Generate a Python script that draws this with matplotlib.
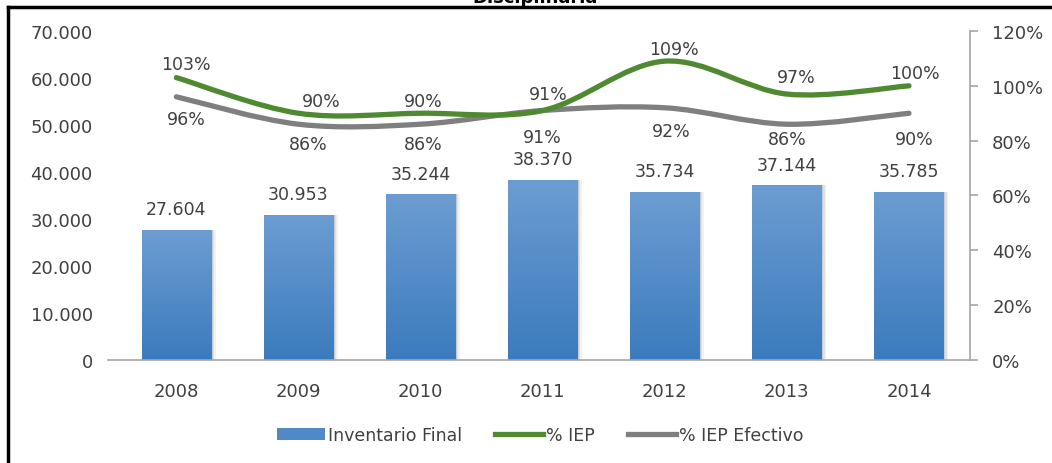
import numpy as np
import matplotlib
matplotlib.use("Agg")
import matplotlib.pyplot as plt
from matplotlib.path import Path
from matplotlib.patches import PathPatch, Patch
from matplotlib.lines import Line2D
from matplotlib.colors import LinearSegmentedColormap
from matplotlib.ticker import FuncFormatter, MultipleLocator

# Inventario final y porcentaje IEP por año
years = ["2008", "2009", "2010", "2011", "2012", "2013", "2014"]
inventario = [27604, 30953, 35244, 38370, 35734, 37144, 35785]
iep = [103, 90, 90, 91, 109, 97, 100]
iep_efectivo = [96, 86, 86, 91, 92, 86, 90]

TEXT = "#404040"
GREEN = "#4f8a33"
GREY = "#7f7f7f"
AXIS = "#a6a6a6"

plt.rcParams["font.family"] = ["DejaVu Sans"]


def miles(v, _=None):
    return f"{v:,.0f}".replace(",", ".")


def smooth_path(xs, ys):
    # Bezier a trozos que pasa por cada punto (suavizado tipo Excel)
    pts = np.column_stack([xs, ys]).astype(float)
    n = len(pts)
    verts = [pts[0]]
    codes = [Path.MOVETO]
    for i in range(n - 1):
        p0 = pts[i - 1] if i > 0 else pts[i]
        p3 = pts[i + 2] if i + 2 < n else pts[i + 1]
        verts += [pts[i] + (pts[i + 1] - p0) / 6,
                  pts[i + 1] - (p3 - pts[i]) / 6,
                  pts[i + 1]]
        codes += [Path.CURVE4] * 3
    return Path(verts, codes)


fig = plt.figure(figsize=(10.52, 4.64), dpi=100)
W, H = 1052, 464
ax = fig.add_axes([108 / W, (H - 361) / H, (970 - 108) / W, (361 - 32) / H])
ax2 = ax.twinx()

x = np.arange(len(years))

# barras con degradado y sombra suave
for k, a in enumerate([0.05, 0.07, 0.09]):
    off = (3 - k) * 0.012
    ax.bar(x + off, inventario, width=0.57, color="#000000", alpha=a,
           linewidth=0, zorder=1)
bars = ax.bar(x, inventario, width=0.57, color="none", linewidth=0, zorder=2)
cmap = LinearSegmentedColormap.from_list("azul", ["#3b7bbd", "#6c9dd2"])
grad = np.linspace(0, 1, 256).reshape(-1, 1)
for b in bars:
    x0, y0 = b.get_x(), b.get_y()
    im = ax.imshow(grad, cmap=cmap, origin="lower", aspect="auto",
                   extent=[x0, x0 + b.get_width(), y0, y0 + b.get_height()],
                   zorder=2)
    im.set_clip_path(b)

for xi, v in zip(x, inventario):
    ax.annotate(miles(v), (xi, v), xytext=(0, 15), textcoords="offset points",
                ha="center", va="center", fontsize=12.5, color=TEXT)

ax.set_xlim(-0.56, 6.5)
ax.set_ylim(0, 70000)
ax.yaxis.set_major_locator(MultipleLocator(10000))
ax.yaxis.set_major_formatter(FuncFormatter(miles))
ax.set_xticks(x)
ax.set_xticklabels(years)
ax.tick_params(axis="y", length=0, pad=11, labelsize=13, labelcolor=TEXT)
ax.tick_params(axis="x", length=0, pad=16, labelsize=13, labelcolor=TEXT)
for s in ["top", "left", "right"]:
    ax.spines[s].set_visible(False)
ax.spines["bottom"].set_color(AXIS)
ax.spines["bottom"].set_linewidth(1.2)

# líneas de porcentaje suavizadas
ax2.set_ylim(0, 120)
ax2.add_patch(PathPatch(smooth_path(x, iep_efectivo), fill=False,
                        edgecolor=GREY, lw=3.8, capstyle="round", zorder=3))
ax2.add_patch(PathPatch(smooth_path(x, iep), fill=False,
                        edgecolor=GREEN, lw=3.8, capstyle="round", zorder=4))

green_off = [(10, 14), (23, 12), (3, 12), (6, 17), (9, 12), (9, 17), (6, 13)]
grey_off = [(10, -22), (10, -20), (3, -20), (0, -26), (6, -23), (0, -15), (5, -26)]
for xi, v, (dx, dy) in zip(x, iep, green_off):
    ax2.annotate(f"{v}%", (xi, v), xytext=(dx * 0.72, dy * 0.72),
                 textcoords="offset points", ha="center", va="center",
                 fontsize=12.5, color=TEXT)
for xi, v, (dx, dy) in zip(x, iep_efectivo, grey_off):
    ax2.annotate(f"{v}%", (xi, v), xytext=(dx * 0.72, dy * 0.72),
                 textcoords="offset points", ha="center", va="center",
                 fontsize=12.5, color=TEXT)

ax2.yaxis.set_major_locator(MultipleLocator(20))
ax2.yaxis.set_major_formatter(FuncFormatter(lambda v, _: f"{v:.0f}%"))
ax2.tick_params(axis="y", direction="out", length=6, width=1.2, color=AXIS,
                pad=10, labelsize=13, labelcolor=TEXT)
for s in ["top", "left", "bottom"]:
    ax2.spines[s].set_visible(False)
ax2.spines["right"].set_color(AXIS)
ax2.spines["right"].set_linewidth(1.2)

handles = [
    Patch(facecolor="#5189c8", edgecolor="none"),
    Line2D([], [], color=GREEN, lw=3.8),
    Line2D([], [], color=GREY, lw=3.8),
]
fig.legend(handles, ["Inventario Final", "% IEP", "% IEP Efectivo"],
           loc="center", bbox_to_anchor=(540 / W, (H - 436) / H), ncol=3,
           frameon=False, fontsize=12.5, labelcolor=TEXT, handlelength=2.8,
           handleheight=0.7, handletextpad=0.15, columnspacing=1.9)

# marco y título (recortado en la parte superior)
fig.add_artist(Line2D([8 / W, 1], [1 - 8 / H, 1 - 8 / H], color="black",
                      lw=2.5, transform=fig.transFigure))
fig.add_artist(Line2D([8 / W, 8 / W], [0, 1 - 8 / H], color="black",
                      lw=2.5, transform=fig.transFigure))
fig.text(535 / W, 1 - 3 / H, "Disciplinaria", ha="center", va="baseline",
         fontsize=13, fontweight="bold", color="black")

fig.savefig("out.png", dpi=100)
